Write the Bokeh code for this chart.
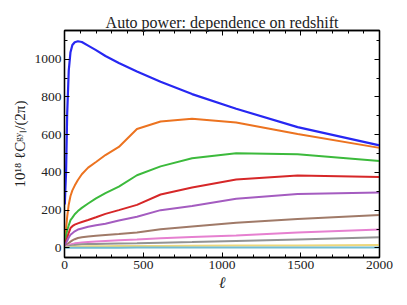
from bokeh.plotting import figure
from bokeh.models import (Range1d, LinearAxis, SingleIntervalTicker,
                          CustomJSTickFormatter)
from bokeh.embed import file_html
from bokeh.resources import INLINE

# ---------------- data ----------------
ell = [2, 5, 10, 17, 27, 38, 50, 65, 85, 110, 150, 200, 260, 345, 460, 610, 810, 1090, 1480, 2000]

z_blue   = [230, 300, 400, 710, 940, 1037, 1075, 1090, 1095, 1091, 1072, 1048, 1017, 980, 935, 880, 815, 737, 640, 543]
z_orange = [15, 50, 100, 164, 230, 275, 305, 330, 360, 390, 425, 455, 492, 535, 630, 670, 684, 664, 603, 530]
z_green  = [10, 35, 65, 92, 120, 147, 160, 178, 195, 212, 235, 262, 290, 325, 385, 432, 475, 502, 496, 460]
z_red    = [5, 20, 38, 55, 80, 105, 115, 123, 130, 137, 148, 162, 180, 200, 228, 283, 320, 362, 383, 376]
z_purple = [3, 12, 25, 38, 55, 70, 78, 88, 97, 103, 112, 120, 128, 145, 165, 200, 222, 260, 286, 294]
z_brown  = [2, 6, 12, 18, 26, 33, 40, 46, 52, 56, 60, 64, 68, 73, 82, 99, 113, 133, 153, 174]
z_pink   = [1, 3, 7, 10, 14, 18, 21, 24, 26, 28, 31, 34, 37, 40, 44, 51, 58, 66, 82, 98]
z_gray   = [0.5, 2, 4, 6, 9, 11, 13, 15, 17, 19, 20, 21, 22, 23, 24, 27, 31, 37, 45, 56]
z_yellow = [0.3, 1, 2, 3, 4, 5, 6, 6.5, 7, 7.5, 8, 8.5, 9, 9.5, 10, 10.5, 11, 12, 13, 15]
z_cyan   = [0.1, 0.3, 0.5, 0.6, 0.8, 0.9, 1.0, 1.0, 1.1, 1.1, 1.2, 1.2, 1.3, 1.3, 1.4, 1.5, 1.6, 1.7, 1.8, 2.0]

series = [z_blue, z_orange, z_green, z_red, z_purple, z_brown, z_pink, z_gray, z_yellow, z_cyan]
colors = ["#2727f2", "#ec7320", "#3cba3c", "#d62728", "#a45cc0", "#a07a68",
          "#e680d0", "#939393", "#ecd77c", "#72bcd2"]
widths = [2.2, 2, 2, 2, 2, 2, 2, 2, 2, 2]

x_ticks_step = 500
y_ticks_step = 200
title_text = "Auto power: dependence on redshift"
x_label = "ℓ"
y_label = "10¹⁸ ℓCᵍʸₗ/(2π)"

# ---------------- layout ----------------
X0, X1 = 0, 2000
Y0, Y1 = -51, 1152
L, R, T, B = 64, 28, 30, 48
FW, FH = 315, 227
FONT = "Liberation Serif"
TXT = "#222222"

p = figure(width=L + FW + R, height=T + FH + B, frame_width=FW, frame_height=FH,
           x_range=Range1d(X0, X1), y_range=Range1d(Y0, Y1),
           output_backend="svg", toolbar_location=None, x_axis_type=None, y_axis_type=None,
           min_border_left=L, min_border_right=R, min_border_top=T, min_border_bottom=B,
           title=title_text)
p.background_fill_color = "white"
p.border_fill_color = "white"
p.outline_line_color = "black"
p.outline_line_width = 1.3
p.xgrid.visible = False
p.ygrid.visible = False

p.title.align = "center"
p.title.text_font = FONT
p.title.text_font_size = "16px"
p.title.text_font_style = "normal"
p.title.text_color = TXT
p.title.standoff = 0
p.title.offset = 0

blank = CustomJSTickFormatter(code="return ''")

def style_axis(ax, labels=True):
    ax.axis_line_color = "black"
    ax.axis_line_width = 1.3
    ax.major_tick_in = 5
    ax.major_tick_out = 0
    ax.minor_tick_in = 3
    ax.minor_tick_out = 0
    ax.major_tick_line_color = "black"
    ax.minor_tick_line_color = "black"
    ax.major_label_text_font = FONT
    ax.major_label_text_font_size = "13.5px"
    ax.major_label_text_color = TXT
    ax.major_label_standoff = 3
    ax.axis_label_text_font = FONT
    ax.axis_label_text_color = TXT
    if not labels:
        ax.formatter = blank
        ax.major_label_text_font_size = "0px"
        ax.major_label_standoff = 0

xb = LinearAxis(ticker=SingleIntervalTicker(interval=x_ticks_step, num_minor_ticks=5))
yl = LinearAxis(ticker=SingleIntervalTicker(interval=y_ticks_step, num_minor_ticks=2))
xt = LinearAxis(ticker=SingleIntervalTicker(interval=x_ticks_step, num_minor_ticks=5))
yr = LinearAxis(ticker=SingleIntervalTicker(interval=y_ticks_step, num_minor_ticks=2))
style_axis(xb)
style_axis(yl)
style_axis(xt, labels=False)
style_axis(yr, labels=False)

xb.axis_label = x_label
xb.axis_label_text_font_size = "16px"
xb.axis_label_text_font_style = "italic"
xb.axis_label_standoff = 2

yl.axis_label = y_label
yl.axis_label_text_font_size = "15px"
yl.axis_label_text_font_style = "normal"
yl.axis_label_standoff = 4

p.add_layout(xb, "below")
p.add_layout(yl, "left")
p.add_layout(xt, "above")
p.add_layout(yr, "right")

for ys, c, w in zip(series, colors, widths):
    p.line(ell, ys, line_color=c, line_width=w)

open("out.html", "w").write(file_html(p, INLINE))
